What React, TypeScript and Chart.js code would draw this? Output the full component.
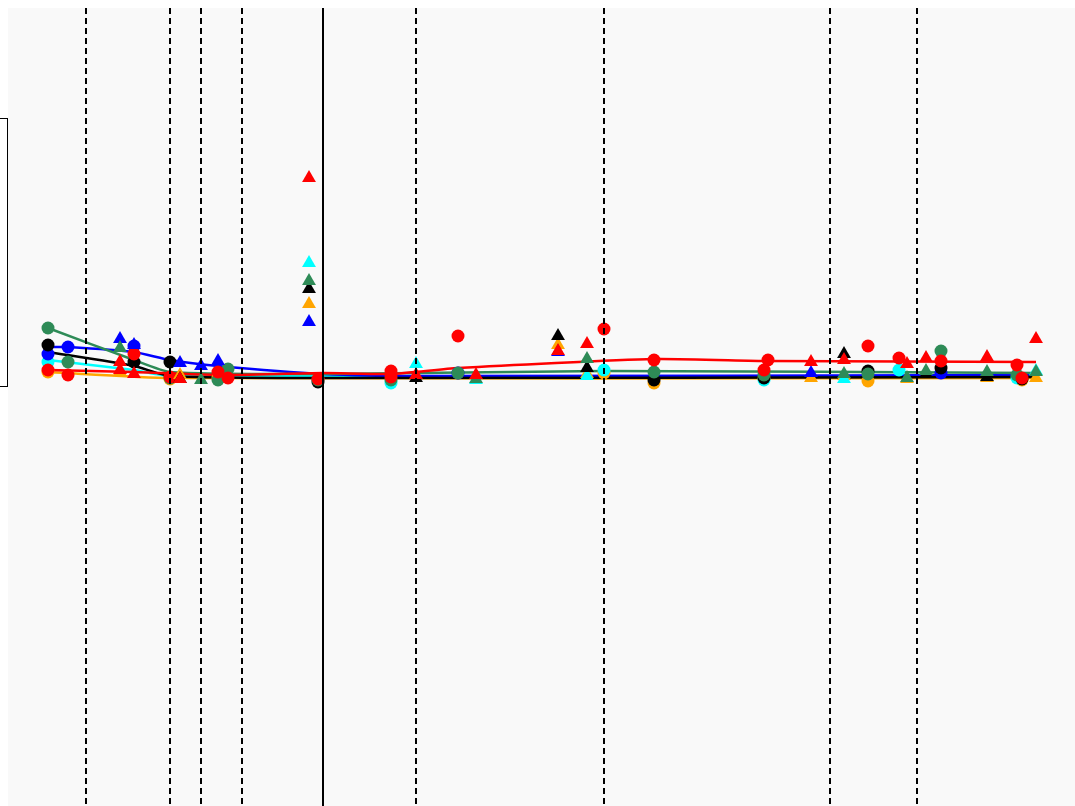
import React, { useEffect, useRef } from "react";
import { Chart, registerables } from "chart.js";

Chart.register(...registerables);

type P = [number, number];

// Reference lines on the x axis
const dashedLines: number[] = [-2.37, -1.53, -1.22, -0.81, 0.93, 2.81, 5.07, 5.94];
const solidLines: number[] = [0];

const xRange: [number, number] = [-3.15, 7.52];
const yRange: [number, number] = [-4.28, 3.7];

// Blue
const blueLine: P[] = [[-2.75, 0.31], [-2.55, 0.31], [-1.89, 0.26], [-1.53, 0.18], [-1.05, 0.12], [0, 0.04], [0.93, 0.02], [7.13, 0.03]];
const blueCircles: P[] = [[-2.75, 0.24], [-2.55, 0.31], [-1.89, 0.32], [1.35, 0.05], [6.18, 0.05]];
const blueTriangles: P[] = [[-2.03, 0.39], [-1.89, 0.33], [-1.43, 0.15], [-1.22, 0.12], [-1.05, 0.17], [-0.14, 0.56], [2.35, 0.26], [4.88, 0.05]];

// Black
const blackLine: P[] = [[-2.75, 0.26], [-1.89, 0.12], [-1.53, 0.02], [0, 0], [7.13, 0.01]];
const blackCircles: P[] = [[-2.75, 0.33], [-1.89, 0.16], [-1.53, 0.16], [-0.05, -0.04], [3.31, -0.02], [4.41, 0], [5.45, 0.07], [6.18, 0.1], [6.99, -0.01]];
const blackTriangles: P[] = [[-1.43, -0.01], [-0.14, 0.89], [0.93, 0.0], [2.35, 0.42], [2.64, 0.1], [5.21, 0.24], [6.03, 0.04], [6.64, 0.01]];

// Cyan
const cyanLine: P[] = [[-2.75, 0.18], [-1.89, 0.08], [-1.53, 0.02], [7.13, 0.02]];
const cyanCircles: P[] = [[-2.75, 0.16], [0.68, -0.05], [2.81, 0.08], [4.41, -0.02], [5.76, 0.08], [6.94, 0]];
const cyanTriangles: P[] = [[-0.14, 1.15], [0.93, 0.14], [1.53, -0.02], [2.64, 0.02], [5.21, -0.01], [7.13, 0.07]];

// Orange
const orangeLine: P[] = [[-2.75, 0.06], [-1.53, 0], [7.13, 0]];
const orangeCircles: P[] = [[-2.75, 0.06], [-1.53, -0.01], [-1.05, 0], [2.81, 0.05], [3.31, -0.05], [4.41, 0], [5.45, -0.03], [6.99, -0.02]];
const orangeTriangles: P[] = [[-2.03, 0.06], [-1.43, 0.03], [-0.14, 0.74], [2.35, 0.33], [2.64, 0.04], [4.88, 0.0], [5.21, 0.02], [5.84, -0.01], [6.64, 0.0], [7.13, 0.0]];

// Green
const greenLine: P[] = [[-2.75, 0.5], [-1.89, 0.18], [-1.53, 0.06], [0, 0.04], [2.81, 0.07], [7.13, 0.05]];
const greenCircles: P[] = [[-2.75, 0.5], [-2.55, 0.16], [-1.53, 0], [-1.05, -0.02], [-0.95, 0.09], [-0.05, -0.02], [0.68, -0.02], [1.35, 0.05], [3.31, 0.06], [4.41, 0.03], [5.45, 0.04], [6.18, 0.27], [6.94, 0.03]];
const greenTriangles: P[] = [[-2.03, 0.3], [-1.22, -0.02], [-0.14, 0.97], [1.53, -0.01], [2.64, 0.19], [5.21, 0.04], [5.84, 0.0], [6.03, 0.07], [6.64, 0.06], [7.13, 0.06]];

// Red
const redLine: P[] = [[-2.75, 0.08], [-1.89, 0.06], [-1.05, 0.03], [0, 0.05], [0.68, 0.04], [1.35, 0.1], [3.31, 0.19], [4.45, 0.17], [7.13, 0.16]];
const redCircles: P[] = [[-2.75, 0.08], [-2.55, 0.03], [-1.89, 0.24], [-1.53, 0.01], [-1.05, 0.06], [-0.95, 0], [-0.05, -0.01], [0.68, 0.07], [0.68, 0.01], [1.35, 0.42], [2.81, 0.49], [3.31, 0.18], [4.41, 0.08], [4.45, 0.18], [5.45, 0.32], [5.76, 0.2], [6.18, 0.17], [6.94, 0.13], [6.99, 0]];
const redTriangles: P[] = [[-2.03, 0.16], [-2.03, 0.08], [-1.89, 0.04], [-1.43, -0.01], [-0.14, 2.0], [0.93, 0.03], [1.53, 0.03], [2.35, 0.27], [2.64, 0.34], [4.88, 0.16], [5.21, 0.18], [5.84, 0.14], [6.03, 0.2], [6.64, 0.21], [7.13, 0.39]];

const groups = [
  { color: "#ffa500", line: orangeLine, circles: orangeCircles, triangles: orangeTriangles },
  { color: "#00ffff", line: cyanLine, circles: cyanCircles, triangles: cyanTriangles },
  { color: "#0000ff", line: blueLine, circles: blueCircles, triangles: blueTriangles },
  { color: "#000000", line: blackLine, circles: blackCircles, triangles: blackTriangles },
  { color: "#2e8b57", line: greenLine, circles: greenCircles, triangles: greenTriangles },
  { color: "#ff0000", line: redLine, circles: redCircles, triangles: redTriangles },
];

const toXY = (a: P[]) => a.map(([x, y]) => ({ x, y }));

export default function App() {
  const ref = useRef<HTMLCanvasElement | null>(null);

  useEffect(() => {
    if (!ref.current) return;
    const datasets: any[] = [];
    groups.forEach((g, i) => {
      datasets.push({
        data: toXY(g.line),
        showLine: true,
        borderColor: g.color,
        backgroundColor: g.color,
        borderWidth: 2.5,
        pointRadius: 0,
        tension: 0.2,
        order: 300 - i,
      });
    });
    groups.forEach((g, i) => {
      datasets.push({
        data: toXY(g.circles),
        showLine: false,
        pointStyle: "circle",
        pointRadius: 6.5,
        pointBorderWidth: 0,
        backgroundColor: g.color,
        borderColor: g.color,
        order: 200 - i,
      });
      datasets.push({
        data: toXY(g.triangles),
        showLine: false,
        pointStyle: "triangle",
        pointRadius: 8,
        pointBorderWidth: 0,
        backgroundColor: g.color,
        borderColor: g.color,
        order: 100 - i,
      });
    });

    const bgPlugin = {
      id: "bg",
      beforeDraw(chart: any) {
        const { ctx, chartArea } = chart;
        ctx.save();
        ctx.fillStyle = "#f9f9f9";
        ctx.fillRect(chartArea.left, chartArea.top, chartArea.right - chartArea.left, chartArea.bottom - chartArea.top);
        ctx.restore();
      },
    };
    const vlinePlugin = {
      id: "vlines",
      afterDatasetsDraw(chart: any) {
        const { ctx, chartArea, scales } = chart;
        ctx.save();
        ctx.strokeStyle = "#000";
        ctx.lineWidth = 2;
        ctx.setLineDash([6, 4]);
        dashedLines.forEach((v) => {
          const px = Math.round(scales.x.getPixelForValue(v));
          ctx.beginPath();
          ctx.moveTo(px, chartArea.top);
          ctx.lineTo(px, chartArea.bottom);
          ctx.stroke();
        });
        ctx.setLineDash([]);
        solidLines.forEach((v) => {
          const px = Math.round(scales.x.getPixelForValue(v));
          ctx.beginPath();
          ctx.moveTo(px, chartArea.top);
          ctx.lineTo(px, chartArea.bottom);
          ctx.stroke();
        });
        ctx.restore();
      },
    };

    const chart = new Chart(ref.current, {
      type: "scatter",
      data: { datasets },
      options: {
        animation: false,
        responsive: true,
        maintainAspectRatio: false,
        layout: { padding: 0, autoPadding: false },
        plugins: { legend: { display: false }, tooltip: { enabled: false } },
        scales: {
          x: { type: "linear", min: xRange[0], max: xRange[1], display: false },
          y: { type: "linear", min: yRange[0], max: yRange[1], display: false },
        },
      },
      plugins: [bgPlugin, vlinePlugin],
    });
    return () => chart.destroy();
  }, []);

  return (
    <>
      <div
        style={{
          position: "fixed",
          left: -20,
          top: 118,
          width: 28,
          height: 269,
          boxSizing: "border-box",
          border: "1.5px solid #000",
          background: "#fff",
        }}
      />
      <div style={{ position: "fixed", left: 8, top: 8, width: 1067, height: 798 }}>
        <canvas ref={ref} />
      </div>
    </>
  );
}
